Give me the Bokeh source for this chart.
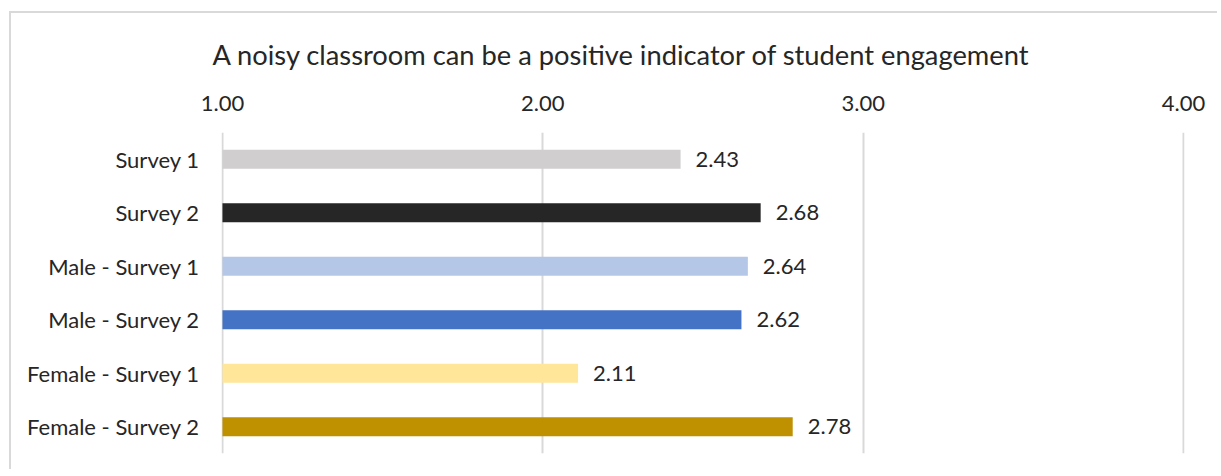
from bokeh.plotting import figure
from bokeh.models import FactorRange, Range1d, FixedTicker, NumeralTickFormatter, Title
from bokeh.core.properties import value
from bokeh.embed import file_html
from bokeh.resources import INLINE

categories = ["Survey 1", "Survey 2", "Male - Survey 1", "Male - Survey 2",
              "Female - Survey 1", "Female - Survey 2"]
values = [2.43, 2.68, 2.64, 2.62, 2.11, 2.78]
colors = ["#D0CECE", "#262626", "#B4C7E7", "#4472C4", "#FFE699", "#BF9000"]
labels = ["2.43", "2.68", "2.64", "2.62", "2.11", "2.78"]
ticks = [1, 2, 3, 4]
title_text = "A noisy classroom can be a positive indicator of student engagement"

FONT = "Lato"

p = figure(width=1208, height=458, output_backend="svg", toolbar_location=None,
           y_range=FactorRange(*reversed(categories)), x_range=Range1d(0.997, 4.003),
           x_axis_location="above",
           min_border_left=210, min_border_top=119, min_border_right=35, min_border_bottom=18)
p.title = None
t = Title(text=title_text, align="left", text_font=FONT, text_font_size="27.3px",
          text_font_style="normal", text_color="#262626", offset=-9, standoff=44)
p.add_layout(t, "above")

p.hbar(y=categories, left=1, right=values, height=0.355, color=colors, line_color=None)
p.text(x=values, y=categories, text=labels, x_offset=15, text_align="left",
       text_baseline="middle", text_font=value(FONT), text_font_size="22px", text_color="#262626")

p.xaxis.ticker = FixedTicker(ticks=ticks)
p.xaxis.formatter = NumeralTickFormatter(format="0.00")
for ax in (p.xaxis[0], p.yaxis[0]):
    ax.axis_line_color = None
    ax.major_tick_line_color = None
    ax.minor_tick_line_color = None
    ax.major_label_text_font = FONT
    ax.major_label_text_color = "#262626"
p.xaxis.major_label_text_font_size = "22px"
p.yaxis.major_label_text_font_size = "22px"
p.xaxis.major_label_standoff = 16
p.yaxis.major_label_standoff = 16

p.xgrid.ticker = FixedTicker(ticks=ticks)
p.xgrid.grid_line_color = "#D9D9D9"
p.xgrid.grid_line_width = 2
p.ygrid.grid_line_color = None
p.outline_line_color = None
p.styles = {"border-left": "2px solid #D9D9D9", "border-top": "2px solid #D9D9D9",
            "margin-top": "11px", "margin-left": "9px"}

open("out.html", "w").write(file_html(p, INLINE))
